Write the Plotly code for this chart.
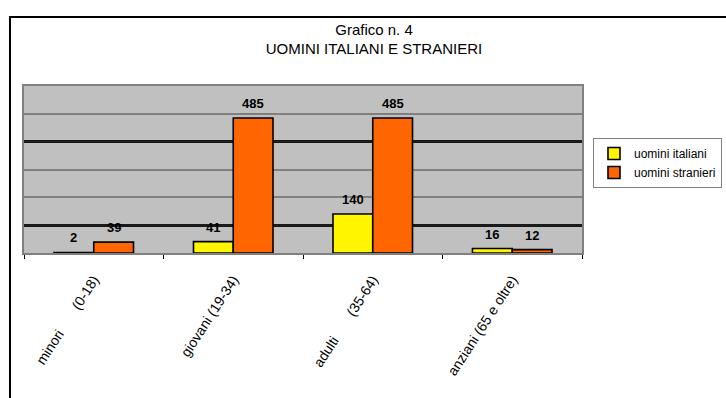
import plotly.graph_objects as go

NB = "\u00a0"

# Age groups and counts of men by origin
categories = [
    "minori" + NB * 7 + "(0-18)",
    "giovani (19-34)",
    "adulti" + NB * 7 + "(35-64)",
    "anziani (65 e oltre)",
]
uomini_italiani = [2, 41, 140, 16]
uomini_stranieri = [39, 485, 485, 12]
series_names = ["uomini italiani", "uomini stranieri"]
series_colors = ["#FFF500", "#FF6600"]
y_max = 600
grid_major = [100, 200, 300, 400, 500]
grid_dark = [100, 400]

FONT = "Liberation Sans, Arial, sans-serif"

fig = go.Figure()
for name, vals, col in zip(series_names, [uomini_italiani, uomini_stranieri], series_colors):
    fig.add_trace(go.Bar(
        x=categories, y=vals, name=name,
        marker=dict(color=col, line=dict(color="#000000", width=1.6)),
        hoverinfo="x+y",
    ))

# value labels above each bar
shift = 20
for vals, xs in [(uomini_italiani, -shift), (uomini_stranieri, shift)]:
    for c, v in zip(categories, vals):
        fig.add_annotation(
            x=c, y=v, text="<b>%d</b>" % v, showarrow=False,
            xshift=xs, yshift=5, yanchor="bottom",
            font=dict(family=FONT, size=13, color="#000000"),
        )

# outer chart frame
fig.add_shape(
    type="rect", xref="paper", yref="paper",
    x0=-0.0251, x1=1.4, y0=-1.2, y1=1.413,
    line=dict(color="#000000", width=2), fillcolor="rgba(0,0,0,0)", layer="above",
)

fig.update_layout(
    width=726, height=398,
    margin=dict(l=24, r=144, t=86, b=145, autoexpand=False),
    paper_bgcolor="#FFFFFF",
    plot_bgcolor="#C0C0C0",
    barmode="group",
    bargap=0.43,
    bargroupgap=0,
    showlegend=True,
    title=dict(
        text="Grafico n. 4<br>UOMINI ITALIANI E STRANIERI",
        x=374 / 726, xref="container", xanchor="center",
        y=0.913, yref="container", yanchor="middle",
        font=dict(family=FONT, size=15, color="#000000"),
    ),
    legend=dict(
        x=593 / 726, y=(398 - 138) / 398, xref="container", yref="container",
        xanchor="left", yanchor="top",
        bgcolor="#FFFFFF", bordercolor="#808080", borderwidth=1,
        font=dict(family=FONT, size=12, color="#000000"),
        tracegroupgap=0, itemwidth=30,
    ),
    xaxis=dict(
        type="category",
        showgrid=False, zeroline=False,
        showline=True, linecolor="#808080", linewidth=2, mirror=True,
        ticks="outside", tickson="boundaries", ticklen=4, tickcolor="#000000", tickwidth=1,
        tickangle=-57, ticklabelstandoff=11,
        tickfont=dict(family=FONT, size=14, color="#000000"),
        fixedrange=True,
    ),
    yaxis=dict(
        range=[0, y_max], tickvals=grid_major,
        showgrid=True, gridcolor="#808080", gridwidth=2,
        showticklabels=False, zeroline=False,
        showline=True, linecolor="#808080", linewidth=2, mirror=True,
        fixedrange=True,
    ),
    yaxis2=dict(
        range=[0, y_max], tickvals=grid_dark, overlaying="y",
        showgrid=True, gridcolor="#1A1A1A", gridwidth=2.5,
        showticklabels=False, zeroline=False, showline=False,
        fixedrange=True,
    ),
)

# an empty trace on the second axis so its dark grid lines are drawn
fig.add_trace(go.Scatter(x=categories, y=[None] * len(categories), yaxis="y2",
                         showlegend=False, hoverinfo="skip", mode="lines"))

fig.write_html("out.html")
